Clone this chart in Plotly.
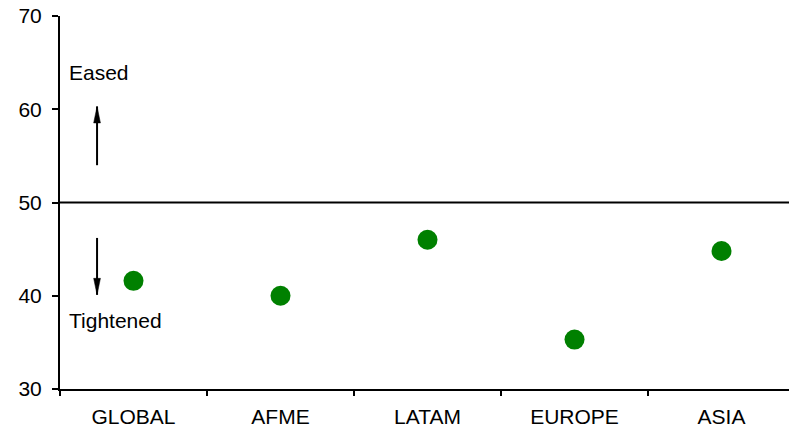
import plotly.graph_objects as go

# Regional readings (index: 50 = unchanged)
regions = ["GLOBAL", "AFME", "LATAM", "EUROPE", "ASIA"]
index_values = [41.6, 40.0, 46.0, 35.3, 44.8]

y_ticks = [30, 40, 50, 60, 70]
threshold = 50

FONT = "Liberation Sans, Arial, Helvetica, sans-serif"

fig = go.Figure()

fig.add_trace(go.Scatter(
    x=regions,
    y=index_values,
    mode="markers",
    marker=dict(color="#008000", size=20, line=dict(width=0)),
    showlegend=False,
    cliponaxis=False,
))

# Neutral line at 50
fig.add_shape(type="line", xref="paper", yref="y",
              x0=0, x1=1, y0=threshold, y1=threshold,
              line=dict(color="black", width=2))

# Direction arrows: shaft in data units, slim head sized in pixels
ARROW_X = -0.248


def add_arrow(tail, tip):
    fig.add_shape(type="line", xref="x", yref="y",
                  x0=ARROW_X, x1=ARROW_X, y0=tail, y1=tip,
                  line=dict(color="black", width=2))
    d = -1 if tip > tail else 1
    fig.add_shape(type="path", xref="x", yref="y",
                  xsizemode="pixel", ysizemode="pixel",
                  xanchor=ARROW_X, yanchor=tip,
                  path=f"M0,0 L-3.4,{16.5 * d} L3.4,{16.5 * d} Z",
                  fillcolor="black", line=dict(color="black", width=0.5))


add_arrow(54.0, 60.3)
add_arrow(46.2, 40.1)

fig.add_annotation(x=-0.452, y=63.9, xref="x", yref="y", text="Eased",
                   showarrow=False, xanchor="left", yanchor="middle",
                   font=dict(family=FONT, size=21, color="black"))
fig.add_annotation(x=-0.452, y=37.3, xref="x", yref="y", text="Tightened",
                   showarrow=False, xanchor="left", yanchor="middle",
                   font=dict(family=FONT, size=21, color="black"))

fig.update_layout(
    width=789, height=432,
    margin=dict(l=60, r=0, t=16, b=43),
    paper_bgcolor="white",
    plot_bgcolor="white",
    font=dict(family=FONT, size=21, color="black"),
    xaxis=dict(
        type="category",
        categoryorder="array", categoryarray=regions,
        range=[-0.5, 4.459],
        showline=True, linecolor="black", linewidth=2,
        ticks="outside", tickson="boundaries", ticklen=5, tickwidth=1.5,
        tickcolor="black", showgrid=False, zeroline=False,
        ticklabelstandoff=8,
    ),
    yaxis=dict(
        range=[30, 70],
        tickvals=y_ticks,
        showline=True, linecolor="black", linewidth=2,
        ticks="outside", ticklen=6, tickwidth=1.5, tickcolor="black",
        showgrid=False, zeroline=False,
        ticklabelstandoff=6,
    ),
)

fig.write_html("out.html")
